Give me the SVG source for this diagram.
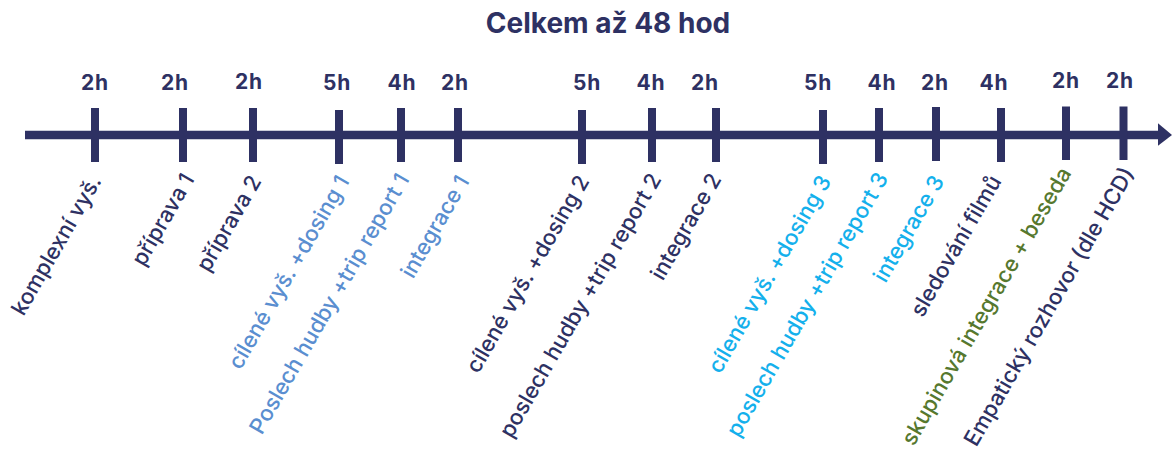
<svg xmlns="http://www.w3.org/2000/svg" width="1172" height="452" viewBox="0 0 1172 452">
<style>
.title{font-family:Inter,"Liberation Sans",sans-serif;font-weight:700;font-size:28px;fill:#2e3163}
.h{font-family:Inter,"Liberation Sans",sans-serif;font-weight:700;font-size:21px;letter-spacing:0.8px;fill:#2e3163;text-anchor:middle}
.lb{font-family:Inter,"Liberation Sans",sans-serif;font-weight:500;font-size:22px;text-anchor:end}
.navy{fill:#2e3163}
.lblue{fill:#5a8ed0}
.cyan{fill:#14b0ec}
.green{fill:#56782e}
.tick{stroke:#2e3163;stroke-width:8}
</style>
<rect width="1172" height="452" fill="#ffffff"/>
<text class="title" x="608" y="33" text-anchor="middle">Celkem až 48 hod</text>
<g id="connectors">
<line x1="25" y1="135" x2="1160" y2="135" stroke="#2e3163" stroke-width="8.5"/>
<polygon points="1158,123.3 1172,135 1158,145.7" fill="#2e3163"/>
</g>
<g id="n1"><line class="tick" x1="95" y1="108" x2="95" y2="162"/><text class="h" x="95" y="89.5">2h</text><text class="lb navy" transform="translate(102,181) rotate(-60)">komplexní vyš.</text></g>
<g id="n2"><line class="tick" x1="183" y1="108" x2="183" y2="162"/><text class="h" x="175" y="89.5">2h</text><text class="lb navy" transform="translate(195,179) rotate(-60)">příprava 1</text></g>
<g id="n3"><line class="tick" x1="253" y1="108" x2="253" y2="162"/><text class="h" x="249" y="88.5">2h</text><text class="lb navy" transform="translate(262,181) rotate(-60)">příprava 2</text></g>
<g id="n4"><line class="tick" x1="339" y1="110" x2="339" y2="164"/><text class="h" x="337" y="89.5">5h</text><text class="lb lblue" transform="translate(350,181) rotate(-60)">cílené vyš. +dosing 1</text></g>
<g id="n5"><line class="tick" x1="401" y1="108" x2="401" y2="162"/><text class="h" x="402" y="89.5">4h</text><text class="lb lblue" transform="translate(410,179) rotate(-60)">Poslech hudby +trip report 1</text></g>
<g id="n6"><line class="tick" x1="458" y1="108" x2="458" y2="162"/><text class="h" x="455" y="89.5">2h</text><text class="lb lblue" transform="translate(470,181) rotate(-60)">integrace 1</text></g>
<g id="n7"><line class="tick" x1="582" y1="110" x2="582" y2="164"/><text class="h" x="587" y="89.5">5h</text><text class="lb navy" transform="translate(590,181) rotate(-60)">cílené vyš. +dosing 2</text></g>
<g id="n8"><line class="tick" x1="652" y1="108" x2="652" y2="162"/><text class="h" x="651" y="89.5">4h</text><text class="lb navy" transform="translate(662,179) rotate(-60)">poslech hudby +trip report 2</text></g>
<g id="n9"><line class="tick" x1="716" y1="108" x2="716" y2="162"/><text class="h" x="705" y="89.5">2h</text><text class="lb navy" transform="translate(722,179) rotate(-60)">integrace 2</text></g>
<g id="n10"><line class="tick" x1="823" y1="110" x2="823" y2="164"/><text class="h" x="818" y="89.5">5h</text><text class="lb cyan" transform="translate(832,181) rotate(-60)">cílené vyš. +dosing 3</text></g>
<g id="n11"><line class="tick" x1="879" y1="108" x2="879" y2="162"/><text class="h" x="882" y="89.5">4h</text><text class="lb cyan" transform="translate(889,178) rotate(-60)">poslech hudby +trip report 3</text></g>
<g id="n12"><line class="tick" x1="936" y1="107" x2="936" y2="161"/><text class="h" x="935" y="89.5">2h</text><text class="lb cyan" transform="translate(945,181) rotate(-60)">integrace 3</text></g>
<g id="n13"><line class="tick" x1="1001" y1="108" x2="1001" y2="162"/><text class="h" x="994" y="89.5">4h</text><text class="lb navy" transform="translate(1002,181) rotate(-60)">sledování filmů</text></g>
<g id="n14"><line class="tick" x1="1066" y1="106.5" x2="1066" y2="160"/><text class="h" x="1066" y="88">2h</text><text class="lb green" transform="translate(1072,173) rotate(-60)">skupinová integrace + beseda</text></g>
<g id="n15"><line class="tick" x1="1123.5" y1="106.5" x2="1123.5" y2="160"/><text class="h" x="1120" y="88">2h</text><text class="lb navy" transform="translate(1135,173) rotate(-60)">Empatický rozhovor (dle HCD)</text></g>
</svg>
